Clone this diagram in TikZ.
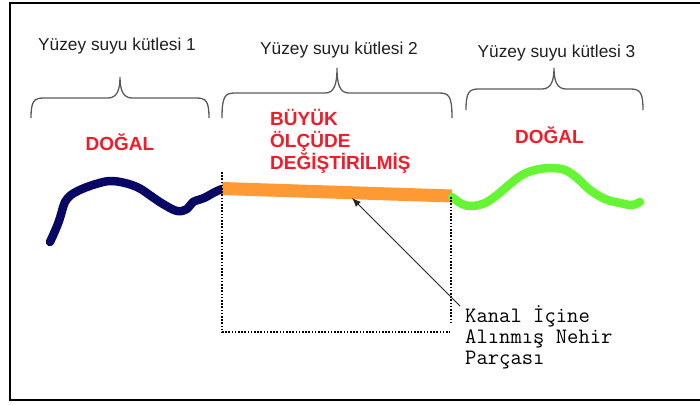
\documentclass[tikz,border=0pt]{standalone}
\usepackage{fontspec}
\setmainfont{Liberation Sans}
\usetikzlibrary{arrows.meta}
\definecolor{navyriver}{RGB}{8,8,100}
\definecolor{orangeriver}{RGB}{255,153,51}
\definecolor{greenriver}{RGB}{102,245,51}
\definecolor{labelred}{RGB}{240,28,40}
\definecolor{bracegray}{RGB}{90,90,90}
\tikzset{
  masslabel/.style={font=\fontsize{17.3}{20}\selectfont, text=black!88, inner sep=0pt, anchor=base},
  statelabel/.style={font=\fontsize{19}{22}\selectfont\bfseries, text=labelred, inner sep=0pt},
  bracestyle/.style={draw=bracegray, line width=1.3pt},
  river/.style={line width=8.5pt, line join=round, line cap=round},
  boxline/.style={draw=black, line width=1.6pt, dash pattern=on 1.6pt off 1.6pt},
  notelabel/.style={font=\ttfamily\fontsize{22}{21}\selectfont, inner sep=0pt, align=left},
  pointer/.style={draw=black!85, line width=0.8pt, -{Latex[length=9pt,width=7pt]}},
  frameline/.style={draw=black, line width=2.5pt},
}
% x1, x2, xtip, yend, yhoriz, ytip
\newcommand\drawbrace[6]{%
  \draw[bracestyle] (#1,#4) .. controls (#1,{#5+3}) and ({#1+3},#5) .. ({#1+13},#5)
    -- ({#3-12},#5) .. controls ({#3-3},#5) and (#3,{#5-8}) .. (#3,#6)
    .. controls (#3,{#5-8}) and ({#3+3},#5) .. ({#3+12},#5)
    -- ({#2-13},#5) .. controls ({#2-3},#5) and (#2,{#5+3}) .. (#2,#4);}
\begin{document}
\begin{tikzpicture}[x=1pt,y=-1pt]
\useasboundingbox (0,0) rectangle (700,404);
% frame
\draw[frameline] (705,3) -- (10,3) -- (10,400) -- (705,400);
% mass labels
\node[masslabel] (m1) at (117,51) {Yüzey suyu kütlesi 1};
\node[masslabel] (m2) at (339,55) {Yüzey suyu kütlesi 2};
\node[masslabel] (m3) at (556.5,57) {Yüzey suyu kütlesi 3};
% braces
\drawbrace{31}{209}{120}{118}{98}{77}
\drawbrace{222}{452}{337}{118}{93}{68}
\drawbrace{466}{643}{554}{110}{89}{68}
% state labels
\node[statelabel, anchor=base] (s1) at (120,150) {DOĞAL};
\node[statelabel, anchor=base west, align=left] (s2) at (270,169) {BÜYÜK\\ÖLÇÜDE\\DEĞİŞTİRİLMİŞ};
\node[statelabel, anchor=base] (s3) at (549.5,143) {DOĞAL};
% rivers
\draw[river, navyriver] plot[smooth, tension=0.6] coordinates {(50,242) (55,231) (59,221) (62,211) (65,202) (71,195) (82,189) (96,184) (110,181) (125,183) (139,188) (151,196) (163,204) (177,211) (187,209) (193,202) (204,198) (215,192) (222,189)};
\draw[line width=13pt, orangeriver] (222,188.5) -- (452,196);
\draw[river, greenriver] plot[smooth, tension=0.6] coordinates {(452,197) (462,204) (472,206) (485,203) (497,195) (510,184) (522,175) (535,170) (550,168) (565,170) (577,178) (590,190) (605,199) (620,203) (632,205) (640,202)};
% dotted box
\coordinate (btl) at (222,172);
\coordinate (bbl) at (222,332);
\coordinate (bbr) at (450,332);
\coordinate (btr) at (451,197);
\coordinate (bmr) at (451,323);
\draw[boxline] (btl) -- (bbl) -- (bbr);
\draw[boxline] (btr) -- (bmr);
% note and pointer
\node[notelabel, anchor=base west] (note) at (465,364) {Kanal İçine\\Alınmış Nehir\\Parçası};
\coordinate (pstart) at (460,306);
\coordinate (ptip) at (352,198);
\draw[pointer] (pstart) -- (ptip);
\end{tikzpicture}
\end{document}
